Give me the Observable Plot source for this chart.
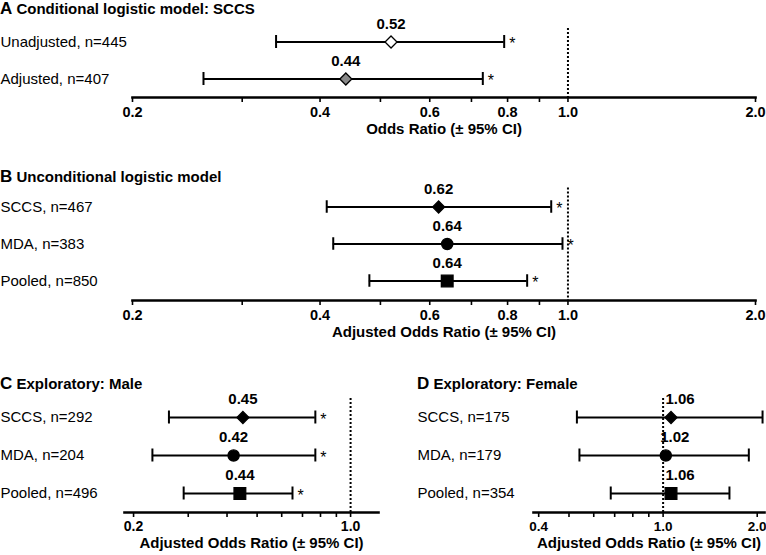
<!DOCTYPE html>
<html>
<head>
<meta charset="utf-8">
<script src="https://cdn.jsdelivr.net/npm/d3@7"></script>
<script src="https://cdn.jsdelivr.net/npm/@observablehq/plot@0.6"></script>
<style>
  html, body { margin: 0; padding: 0; background: #fff; overflow: hidden; }
  body { font-family: "Liberation Sans", Arial, sans-serif; color: #000; }
  #root { position: relative; width: 766px; height: 555px; overflow: hidden; }
  .panel { position: absolute; }
  .panel svg { position: absolute; left: 0; top: 0; }
  .title { position: absolute; left: 0; white-space: nowrap; font-weight: bold; font-size: 15px; line-height: 17px; }
  .title .letter { font-size: 17px; }
</style>
</head>
<body>
<div id="root"></div>
<script>
// ---------- Data ----------
// Panel A: Conditional logistic model: SCCS
const aTitle = "Conditional logistic model: SCCS";
const aLabels = ["Unadjusted, n=445", "Adjusted, n=407"];
const aEst = [0.52, 0.44];
const aLow = [0.34, 0.26];
const aHigh = [0.79, 0.73];
const aSig = [true, true];
const aAxis = "Odds Ratio (± 95% CI)";

// Panel B: Unconditional logistic model
const bTitle = "Unconditional logistic model";
const bLabels = ["SCCS, n=467", "MDA, n=383", "Pooled, n=850"];
const bEst = [0.62, 0.64, 0.64];
const bLow = [0.41, 0.42, 0.48];
const bHigh = [0.94, 0.98, 0.86];
const bSig = [true, true, true];

// Panel C: Exploratory: Male
const cTitle = "Exploratory: Male";
const cLabels = ["SCCS, n=292", "MDA, n=204", "Pooled, n=496"];
const cEst = [0.45, 0.42, 0.44];
const cLow = [0.26, 0.23, 0.29];
const cHigh = [0.77, 0.77, 0.65];
const cSig = [true, true, true];

// Panel D: Exploratory: Female
const dTitle = "Exploratory: Female";
const dLabels = ["SCCS, n=175", "MDA, n=179", "Pooled, n=354"];
const dEst = [1.06, 1.02, 1.06];
const dLow = [0.53, 0.54, 0.68];
const dHigh = [2.08, 1.88, 1.63];
const dSig = [false, false, false];

const adjAxis = "Adjusted Odds Ratio (± 95% CI)";

// Tick values and labelled ticks
const abTicks = [0.2, 0.3, 0.4, 0.5, 0.6, 0.7, 0.8, 0.9, 1.0, 2.0];
const abTickLabels = [0.2, 0.4, 0.6, 0.8, 1.0, 2.0];
const cTicks = [0.2, 0.3, 0.4, 0.5, 0.6, 0.7, 0.8, 0.9, 1.0];
const cTickLabels = [0.2, 1.0];
const dTicks = [0.4, 0.5, 0.6, 0.7, 0.8, 0.9, 1.0, 2.0];
const dTickLabels = [0.4, 1.0, 2.0];

// ---------- Styling helpers ----------
const FONT = "'Liberation Sans', Arial, sans-serif";
function symbolFor(label) {
  if (label.startsWith("MDA")) return "circle";
  if (label.startsWith("Pooled")) return "square";
  return "diamond2";
}
const rFor = {diamond2: 5.4, circle: 5.6, square: 6.6};
function fillFor(label) {
  if (label.startsWith("Unadjusted")) return "white";
  if (label.startsWith("Adjusted")) return "#8a8a8a";
  return "black";
}

function panel(o) {
  const rows = o.labels.map((l, i) => ({
    label: l, est: o.est[i], lo: o.lo[i], hi: o.hi[i], sig: o.sig[i],
    symbol: symbolFor(l), fill: fillFor(l)
  }));
  const step = (o.height - o.mt - o.mb) / rows.length;
  const capInset = (step - 13) / 2;
  const dots = ["diamond2", "circle", "square"].map(s =>
    Plot.dot(rows.filter(d => d.symbol === s), {
      x: "est", y: "label", symbol: s, r: rFor[s],
      fill: d => d.fill, stroke: "black", strokeWidth: 1.3
    })
  );
  return Plot.plot({
    width: o.width,
    height: o.height,
    marginLeft: o.ml,
    marginRight: o.mr,
    marginTop: o.mt,
    marginBottom: o.mb,
    style: {fontFamily: FONT, color: "black", background: "transparent", overflow: "visible"},
    x: {type: "log", domain: o.xDomain},
    y: {type: "band", domain: o.labels, padding: 0, axis: null},
    fill: {type: "identity"},
    marks: [
      Plot.ruleX([1], {stroke: "black", strokeWidth: 2, strokeDasharray: "2,2", insetTop: o.refInset || 0}),
      Plot.ruleY(rows, {y: "label", x1: "lo", x2: "hi", stroke: "black", strokeWidth: 2}),
      Plot.tickX(rows, {x: "lo", y: "label", stroke: "black", strokeWidth: 2, insetTop: capInset, insetBottom: capInset}),
      Plot.tickX(rows, {x: "hi", y: "label", stroke: "black", strokeWidth: 2, insetTop: capInset, insetBottom: capInset}),
      ...dots,
      Plot.text(rows, {x: "est", y: "label", text: d => d.est.toFixed(2), dy: -18, dx: o.valueDx || 0,
        fontWeight: "bold", fontSize: 15, fill: "black"}),
      Plot.text(rows.filter(d => d.sig), {x: "hi", y: "label", text: () => "*",
        textAnchor: "start", dx: 5, dy: 2, fontSize: 16, fill: "black"}),
      Plot.text(rows, {y: "label", text: "label", frameAnchor: "left", textAnchor: "start",
        dx: -o.ml, fontSize: 15, fill: "black"}),
      Plot.axisX({ticks: o.ticks, tickFormat: d => o.tickLabels.includes(d) ? d.toFixed(1) : "",
        tickSize: 5, tickPadding: 4, fontSize: o.tickFont, fontWeight: "bold", strokeWidth: 1.6,
        label: null, anchor: "bottom", fill: "black"}),
      Plot.frame({anchor: "bottom", stroke: "black", strokeWidth: 2.6}),
      Plot.text([o.axisLabel], {text: d => d, frameAnchor: "bottom", dy: o.labelDy,
        fontWeight: "bold", fontSize: 15, fill: "black"})
    ]
  });
}

function addPanel(o) {
  const div = document.createElement("div");
  div.className = "panel";
  div.style.left = o.left + "px";
  div.style.top = o.top + "px";
  div.style.width = o.width + "px";
  div.style.height = o.height + "px";
  div.appendChild(panel(o));
  const t = document.createElement("div");
  t.className = "title";
  t.style.top = o.titleTop + "px";
  const letter = document.createElement("span");
  letter.className = "letter";
  letter.textContent = o.letter;
  t.appendChild(letter);
  t.appendChild(document.createTextNode(" " + o.title));
  div.appendChild(t);
  document.getElementById("root").appendChild(div);
}

addPanel({
  letter: "A", title: aTitle, left: 0, top: 0, width: 766, height: 140,
  titleTop: 0, ml: 132, mr: 11, mt: 23, mb: 43, tickFont: 14.5, labelDy: 36, refInset: 5,
  labels: aLabels, est: aEst, lo: aLow, hi: aHigh, sig: aSig,
  xDomain: [0.2, 2.0], ticks: abTicks, tickLabels: abTickLabels, axisLabel: aAxis
});
addPanel({
  letter: "B", title: bTitle, left: 0, top: 160, width: 766, height: 190,
  titleTop: 8, ml: 132, mr: 11, mt: 27.5, mb: 50, tickFont: 14.5, labelDy: 36,
  labels: bLabels, est: bEst, lo: bLow, hi: bHigh, sig: bSig,
  xDomain: [0.2, 2.0], ticks: abTicks, tickLabels: abTickLabels, axisLabel: adjAxis
});
addPanel({
  letter: "C", title: cTitle, left: 0, top: 360, width: 390, height: 195,
  titleTop: 15, ml: 124, mr: 12, mt: 38, mb: 43, tickFont: 14, labelDy: 35,
  labels: cLabels, est: cEst, lo: cLow, hi: cHigh, sig: cSig,
  xDomain: [0.187, 1.23], ticks: cTicks, tickLabels: cTickLabels, axisLabel: adjAxis
});
addPanel({
  letter: "D", title: dTitle, left: 417, top: 360, width: 349, height: 195,
  titleTop: 15, ml: 116, mr: 2, mt: 38, mb: 43, tickFont: 13.5, labelDy: 35, valueDx: 9,
  labels: dLabels, est: dEst, lo: dLow, hi: dHigh, sig: dSig,
  xDomain: [0.385, 2.11], ticks: dTicks, tickLabels: dTickLabels, axisLabel: adjAxis
});
</script>
</body>
</html>
